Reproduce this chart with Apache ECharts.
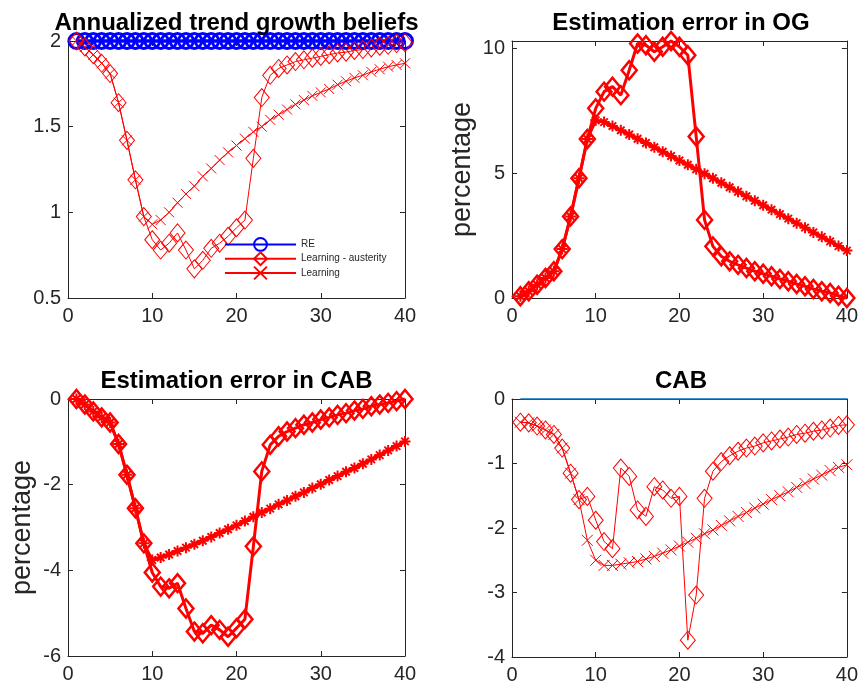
<!DOCTYPE html>
<html><head><meta charset="utf-8">
<script src="https://cdn.jsdelivr.net/npm/echarts@6/dist/echarts.min.js"></script>
<style>html,body{margin:0;padding:0;background:#fff}#c{width:861px;height:688px}</style>
</head><body><div id="c"></div>
<script>
// ---------- data ----------
const periods = [1,2,3,4,5,6,7,8,9,10,11,12,13,14,15,16,17,18,19,20,21,22,23,24,25,26,27,28,29,30,31,32,33,34,35,36,37,38,39,40];
const xTicks = [0,10,20,30,40];

const titles = ['Annualized trend growth beliefs','Estimation error in OG','Estimation error in CAB','CAB'];
const yLabels = ['','percentage','percentage',''];
const legendNames = ['RE','Learning - austerity','Learning'];

// Panel 1: annualized trend growth beliefs
const trendRE = [2,2,2,2,2,2,2,2,2,2,2,2,2,2,2,2,2,2,2,2,2,2,2,2,2,2,2,2,2,2,2,2,2,2,2,2,2,2,2,2];
const trendAusterity = [2.00,1.965,1.92,1.87,1.81,1.64,1.42,1.19,0.975,0.84,0.78,0.82,0.88,0.78,0.67,0.72,0.79,0.82,0.86,0.91,0.955,1.315,1.67,1.80,1.84,1.86,1.88,1.89,1.90,1.91,1.92,1.93,1.935,1.945,1.95,1.96,1.97,1.975,1.985,1.99];
const trendLearning = [2.00,1.965,1.92,1.87,1.81,1.64,1.42,1.19,0.975,0.93,0.955,1.0,1.056,1.107,1.153,1.21,1.256,1.305,1.35,1.39,1.43,1.47,1.50,1.54,1.57,1.60,1.63,1.655,1.68,1.70,1.72,1.745,1.765,1.785,1.80,1.82,1.835,1.85,1.86,1.87];

// Panel 2: estimation error in OG
const ogAusterity = [0.07,0.27,0.53,0.8,1.07,1.96,3.27,4.8,6.37,7.6,8.27,8.47,8.13,9.13,10.2,10.13,9.87,10.07,10.3,10.07,9.73,6.47,3.13,2.07,1.67,1.47,1.33,1.2,1.07,0.97,0.87,0.76,0.67,0.56,0.47,0.36,0.27,0.2,0.09,0.0];
const ogLearning = [0.07,0.27,0.53,0.8,1.07,1.96,3.27,4.8,6.37,7.12,7.05,6.89,6.72,6.55,6.38,6.21,6.04,5.86,5.69,5.51,5.34,5.16,4.98,4.80,4.62,4.44,4.26,4.08,3.90,3.72,3.54,3.36,3.18,3.00,2.82,2.63,2.45,2.27,2.08,1.90];

// Panel 3: estimation error in CAB
const errAusterity = [0.0,-0.13,-0.29,-0.43,-0.55,-1.05,-1.77,-2.55,-3.37,-4.05,-4.38,-4.42,-4.3,-4.89,-5.43,-5.47,-5.28,-5.39,-5.55,-5.35,-5.14,-3.44,-1.69,-1.07,-0.87,-0.76,-0.68,-0.6,-0.55,-0.48,-0.43,-0.37,-0.33,-0.27,-0.23,-0.17,-0.13,-0.09,-0.05,0.0];
const errLearning = [0.0,-0.13,-0.29,-0.43,-0.55,-1.05,-1.77,-2.55,-3.37,-3.76,-3.70,-3.63,-3.55,-3.47,-3.39,-3.31,-3.22,-3.13,-3.04,-2.95,-2.85,-2.75,-2.65,-2.56,-2.46,-2.37,-2.27,-2.18,-2.08,-1.99,-1.89,-1.80,-1.70,-1.61,-1.51,-1.41,-1.31,-1.20,-1.10,-0.99];

// Panel 4: CAB
const cabRE = [0,0,0,0,0,0,0,0,0,0,0,0,0,0,0,0,0,0,0,0,0,0,0,0,0,0,0,0,0,0,0,0,0,0,0,0,0,0,0,0];
const cabAusterity = [-0.36,-0.37,-0.42,-0.48,-0.55,-0.76,-1.15,-1.56,-1.51,-1.88,-2.21,-2.32,-1.07,-1.2,-1.72,-1.82,-1.36,-1.41,-1.54,-1.51,-3.74,-3.04,-1.54,-1.12,-0.97,-0.88,-0.81,-0.76,-0.73,-0.68,-0.65,-0.62,-0.59,-0.55,-0.53,-0.5,-0.48,-0.45,-0.41,-0.4];
const cabLearning = [-0.36,-0.37,-0.42,-0.48,-0.55,-0.76,-1.15,-1.56,-2.19,-2.5,-2.58,-2.58,-2.56,-2.54,-2.52,-2.48,-2.44,-2.39,-2.34,-2.28,-2.22,-2.16,-2.09,-2.03,-1.96,-1.89,-1.82,-1.76,-1.69,-1.63,-1.56,-1.50,-1.44,-1.37,-1.31,-1.24,-1.18,-1.11,-1.06,-1.02];

// y-axis ranges
const yRanges = [
  {min:0.5, max:2, interval:0.5},
  {min:0, max:10.3, interval:5},
  {min:-6, max:0, interval:2},
  {min:-4, max:0, interval:1}
];

// ---------- layout / style ----------
const FONT = '"Liberation Sans", Arial, Helvetica, sans-serif';
const AXC = '#262626';
const RED = '#ff0000';
const X_MARK = 'path://M0,0L10,10M10,0L0,10';
const STAR_MARK = 'path://M5,0L5,10M0,5L10,5M1.6,1.6L8.4,8.4M8.4,1.6L1.6,8.4';
const grids = [
  {left:68, top:41, width:337, height:257},
  {left:512, top:41, width:338, height:257},
  {left:68, top:399, width:337, height:257},
  {left:512, top:399, width:338, height:258}
];
const nameGaps = [0, 36, 32, 0];

const xAxes = [], yAxes = [];
grids.forEach((g, i) => {
  const line = {show:true, onZero:false, lineStyle:{color:AXC, width:1}};
  const tick = {show:true, inside:true, length:5, lineStyle:{color:AXC, width:1}};
  xAxes.push({gridIndex:i, type:'value', position:'bottom', min:xTicks[0], max:xTicks[xTicks.length-1], interval:10,
    axisLine:line, axisTick:tick, splitLine:{show:false},
    axisLabel:{fontSize:20, color:AXC, fontFamily:FONT, margin:8}});
  xAxes.push({gridIndex:i, type:'value', position:'top', min:xTicks[0], max:xTicks[xTicks.length-1], interval:10,
    axisLine:line, axisTick:tick, splitLine:{show:false}, axisLabel:{show:false}});
  const r = yRanges[i];
  const fmt = v => {
    const q = v / r.interval;
    return Math.abs(q - Math.round(q)) < 1e-6 ? String(+v.toFixed(2)) : '';
  };
  yAxes.push({gridIndex:i, type:'value', position:'left', min:r.min, max:r.max, interval:r.interval,
    axisLine:line, axisTick:tick, splitLine:{show:false},
    axisLabel:{fontSize:20, color:AXC, fontFamily:FONT, margin:7, formatter:fmt},
    name:yLabels[i], nameLocation:'middle', nameRotate:90, nameGap:nameGaps[i],
    nameTextStyle:{fontSize:27, color:AXC, fontFamily:FONT}});
  yAxes.push({gridIndex:i, type:'value', position:'right', min:r.min, max:r.max, interval:r.interval,
    axisLine:line, axisTick:tick, splitLine:{show:false}, axisLabel:{show:false}});
});

function mk(name, gi, arr, o) {
  return {
    name: name, type:'line', xAxisIndex:2*gi, yAxisIndex:2*gi, clip:false,
    data: periods.map((t,k) => [t, arr[k]]),
    symbol: o.symbol || 'none', symbolSize: o.size || 10,
    showSymbol: !!o.symbol,
    lineStyle:{color:o.color, width:o.lw},
    itemStyle:{color:'rgba(0,0,0,0)', borderColor:o.color, borderWidth:o.bw || 1},
    emphasis:{disabled:true}, z: o.z || 2
  };
}

const series = [
  // panel 1
  mk('RE', 0, trendRE, {symbol:'circle', size:15, color:'#0000ff', lw:3.5, bw:3}),
  mk('Learning - austerity', 0, trendAusterity, {symbol:'diamond', size:[15,18], color:RED, lw:1, bw:1}),
  mk('Learning', 0, trendLearning, {symbol:X_MARK, size:10, color:RED, lw:1, bw:1}),
  // panel 2
  mk('Learning - austerity', 1, ogAusterity, {symbol:'diamond', size:[15,18], color:RED, lw:3, bw:2.5}),
  mk('Learning', 1, ogLearning, {symbol:STAR_MARK, size:11, color:RED, lw:3, bw:2}),
  // panel 3
  mk('Learning - austerity', 2, errAusterity, {symbol:'diamond', size:[15,18], color:RED, lw:3, bw:2.5}),
  mk('Learning', 2, errLearning, {symbol:STAR_MARK, size:11, color:RED, lw:3, bw:2}),
  // panel 4
  mk('RE', 3, cabRE, {color:'#0072BD', lw:1.5}),
  mk('Learning - austerity', 3, cabAusterity, {symbol:'diamond', size:[15,18], color:RED, lw:1, bw:1}),
  mk('Learning', 3, cabLearning, {symbol:X_MARK, size:11, color:RED, lw:1, bw:1})
];

const graphics = grids.map((g, i) => ({
  type:'text', x: g.left + g.width/2, y: g.top - 18, z: 100,
  style:{text: titles[i], fill:'#000', fontSize:24, fontWeight:'bold', fontFamily:FONT,
         align:'center', verticalAlign:'middle', textAlign:'center', textVerticalAlign:'middle'}
}));

const chart = echarts.init(document.getElementById('c'), null, {renderer:'canvas'});
chart.setOption({
  animation:false,
  backgroundColor:'#fff',
  grid: grids,
  xAxis: xAxes,
  yAxis: yAxes,
  legend: {
    show:true, orient:'vertical', left:224, top:237, padding:0, itemWidth:71, itemHeight:16, itemGap:-0.5,
    data: legendNames, selectedMode:false,
    textStyle:{fontSize:10, color:AXC, fontFamily:FONT}
  },
  graphic: graphics,
  series: series
});
</script></body></html>
